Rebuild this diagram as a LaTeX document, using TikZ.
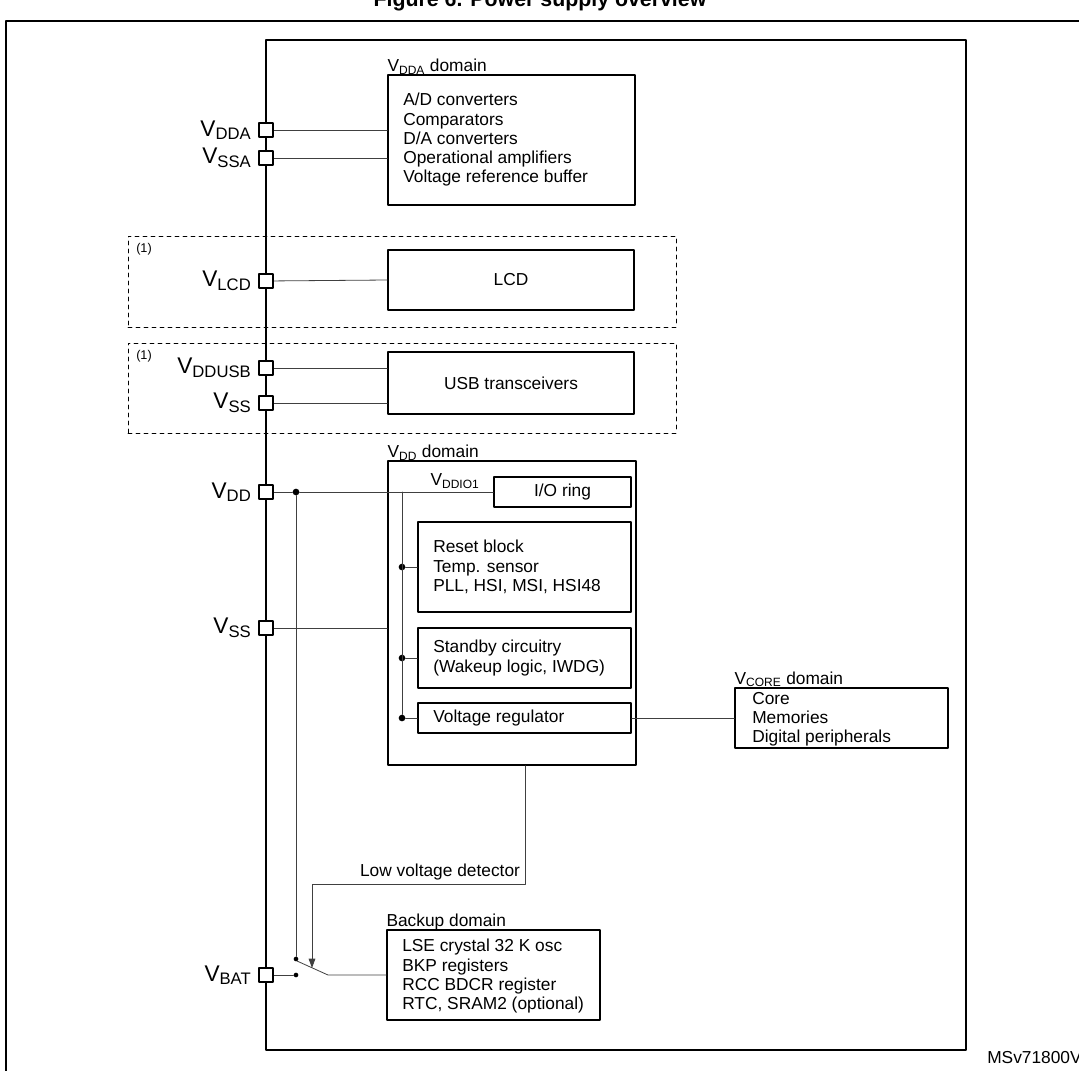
\documentclass[tikz,border=0pt]{standalone}
\usepackage{fontspec}
\setmainfont{Liberation Sans}
\usetikzlibrary{fit,arrows.meta}

\tikzset{
  box/.style={draw,line width=1.1pt,inner sep=0pt},
  dbox/.style={draw,dashed,line width=0.7pt,inner sep=0pt},
  pad/.style={draw,fill=white,line width=0.9pt,minimum size=10.5pt,inner sep=0pt},
  wire/.style={line width=0.6pt,draw=black!75},
  dot/.style={circle,fill=black,inner sep=0pt,minimum size=5pt},
  sdot/.style={circle,fill=black,inner sep=0pt,minimum size=3.5pt},
  txt/.style={font=\fontsize{13}{14.4}\selectfont,align=left,inner sep=0pt},
  plab/.style={font=\fontsize{17}{18}\selectfont,anchor=east,inner sep=0pt},
}
\newcommand{\sub}[1]{\textsubscript{\fontsize{9}{9}\selectfont #1}}

\begin{document}
\begin{tikzpicture}[line cap=round,line join=round,x=0.75pt,y=-0.75pt]
        \useasboundingbox (0,0) rectangle (1079,1071);
        \clip (0,0) rectangle (1079,1071);
        \node[font=\bfseries\fontsize{16}{17}\selectfont] (title) at (540,1) {Figure 6. Power supply overview};
        \draw[line width=1.1pt] (6,21) rectangle (1090,1090);
        \node[box,fit={(266,40) (966,1050)}] (chip) {};
        \node[txt,anchor=base west] (ref) at (987,1063) {MSv71800V2};
        % VDDA domain
        \node[box,fit={(388,75) (635,205)}] (adc) {};
        \node[txt,anchor=south west] at (adc.north west) {V\sub{DDA} domain};
        \node[txt,anchor=north west] (adctxt) at (403,93) {A/D converters\\Comparators\\D/A converters\\Operational amplifiers\\Voltage reference buffer};
        % LCD and USB (optional)
        \node[dbox,fit={(128,236) (676,327)}] (opt1) {};
        \node[txt,font=\fontsize{9.5}{10}\selectfont,anchor=north west] at (136,243) {(1)};
        \node[box,fit={(388,250) (634,310)}] (lcd) {};
        \node[txt] at (lcd) {LCD};
        \node[dbox,fit={(128,343) (676,433)}] (opt2) {};
        \node[txt,font=\fontsize{9.5}{10}\selectfont,anchor=north west] at (136,350) {(1)};
        \node[box,fit={(388,352) (634,414)}] (usb) {};
        \node[txt] at (usb) {USB transceivers};
        % VDD domain
        \node[box,fit={(388,461) (636,765)}] (vdd) {};
        \node[txt,anchor=south west] at (vdd.north west) {V\sub{DD} domain};
        \node[box,fit={(494,477) (631,507)}] (io) {};
        \node[txt] at (io) {I/O ring};
        \node[box,fit={(418,522) (631,612)}] (rst) {};
        \node[txt,anchor=west] at (433,567) {Reset block\\Temp. sensor\\PLL, HSI, MSI, HSI48};
        \node[box,fit={(418,628) (631,688)}] (stby) {};
        \node[txt,anchor=west] at (433,658) {Standby circuitry\\(Wakeup logic, IWDG)};
        \node[box,fit={(418,703) (631,733)}] (vreg) {};
        \node[txt,anchor=west] at (433,718) {Voltage regulator};
        \node[box,fit={(735,688) (948,748)}] (core) {};
        \node[txt,anchor=south west] at (core.north west) {V\sub{CORE} domain};
        \node[txt,anchor=north west] at (752,692) {Core\\Memories\\Digital peripherals};
        % backup domain
        \node[box,fit={(387,930) (600,1020)}] (bkp) {};
        \node[txt,anchor=south west] at ([yshift=-1pt]bkp.north west) {Backup domain};
        \node[txt,anchor=north west] at (402,939) {LSE crystal 32 K osc\\BKP registers\\RCC BDCR register\\RTC, SRAM2 (optional)};
        % wires
        \node[dot] (jdd) at (296,492) {};
        \node[dot] (j1) at (402,567) {};
        \node[dot] (j2) at (402,658) {};
        \node[dot] (j3) at (402,718) {};
        \coordinate (jtop) at (402,492);
        \node[sdot] (swa) at (296,959) {};
        \node[sdot] (swb) at (296,975) {};
        \coordinate (swc) at (328,975);
        \coordinate (lvd) at (525,884);
        \draw[wire] (266,130) -- (adc.west |- 266,130);
        \draw[wire] (266,158) -- (adc.west |- 266,158);
        \draw[wire] (266,281) -- (lcd.west);
        \draw[wire] (266,368) -- (usb.west |- 266,368);
        \draw[wire] (266,403) -- (usb.west |- 266,403);
        \draw[wire] (266,492) -- (jdd) -- (io.west);
        \node[txt,anchor=south] at (455,489) {V\sub{DDIO1}};
        \draw[wire] (266,628) -- (vdd.west |- 266,628);
        \draw[wire] (jtop) -- (j3);
        \draw[wire] (j1) -- (rst.west |- j1);
        \draw[wire] (j2) -- (stby.west |- j2);
        \draw[wire] (j3) -- (vreg.west);
        \draw[wire] (vreg.east) -- (core.west |- vreg.east);
        \draw[wire] (jdd) -- (swa);
        \draw[wire] (266,975) -- (swb);
        \draw[wire] (297,961) -- (swc) -- (bkp.west |- swc);
        \draw[wire,-{Triangle[length=7pt,width=5pt]}] (vdd.south -| lvd) -- (lvd) -- (312,884) -- (312,968);
        \node[txt,anchor=south] at (440,880) {Low voltage detector};
        % pads
        \foreach \y/\n/\l in {130/pdda/DDA,158/pssa/SSA,281/plcd/LCD,368/pusb/DDUSB,403/pss1/SS,492/pdd/DD,628/pss2/SS,975/pbat/BAT}{
          \node[pad] (\n) at (266,\y) {};
          \node[plab] at ([xshift=-5pt]\n.west) {V\textsubscript{\fontsize{12.5}{13}\selectfont\l}};
        }
    \end{tikzpicture}
\end{document}
